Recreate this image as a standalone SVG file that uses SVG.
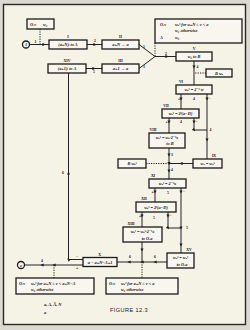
<svg xmlns="http://www.w3.org/2000/svg" width="250" height="330" viewBox="0 0 250 330">
<style>
.bg{fill:#dcd9d1}
.paper{fill:#f5f2e6;stroke:#2a2a2a;stroke-width:1.4}
.box{fill:#f8f6ee;stroke:#1a1a1a;stroke-width:1.3}
.ln{fill:none;stroke:#222;stroke-width:1}
.dot{fill:none;stroke:#222;stroke-width:1;stroke-dasharray:1.2,1.2}
.t{font-family:"Liberation Serif","DejaVu Serif",serif;font-style:italic;font-weight:bold;font-size:4.3px;fill:#111;text-anchor:middle}
.tl{font-family:"Liberation Serif","DejaVu Serif",serif;font-style:italic;font-weight:bold;font-size:4.3px;fill:#111}
.lab{font-family:"Liberation Serif","DejaVu Serif",serif;font-weight:bold;font-size:3.8px;fill:#111;text-anchor:middle}
.cap{font-family:"Liberation Sans","DejaVu Sans",sans-serif;font-size:5.6px;fill:#222;letter-spacing:0.4px}
</style>
<defs>
<marker id="a" viewBox="0 0 6 6" refX="3" refY="3" markerWidth="3.2" markerHeight="3.2" orient="auto" markerUnits="userSpaceOnUse">
<path d="M0,0 L6,3 L0,6 z" fill="#1e1e1e"/>
</marker>
</defs>
<rect class="bg" x="0" y="0" width="250" height="330"/>
<rect class="paper" x="3.5" y="4.5" width="242" height="320"/>

<g id="connectors">
<polyline class="ln" points="29.5,44.5 44,44.5 49,44.5" marker-mid="url(#a)"/>
<line class="dot" x1="40" y1="29" x2="40" y2="44.5"/>
<polyline class="ln" points="87,44.5 95,44.5 102,44.5" marker-mid="url(#a)"/>
<polyline class="ln" points="86,68.5 94,68.5 102,68.5" marker-mid="url(#a)"/>
<line class="ln" x1="139" y1="44.5" x2="155" y2="56.5"/>
<line class="ln" x1="139" y1="68.5" x2="155" y2="56.5"/>
<line class="dot" x1="155" y1="43" x2="155" y2="56.5"/>
<polyline class="ln" points="155,56.5 167,56.5 176,56.5" marker-mid="url(#a)"/>
<polyline class="ln" points="194,61 194,67 194,85" marker-mid="url(#a)"/>
<line class="dot" x1="206" y1="73" x2="194" y2="73"/>
<polyline class="ln" points="181,94 181,99 181,109" marker-mid="url(#a)"/>
<polyline class="ln" points="207,94 207,99 207,140 207,159" marker-mid="url(#a)"/>
<polyline class="ln" points="169,118 169,122 169,133" marker-mid="url(#a)"/>
<polyline class="ln" points="194,118 194,122 194,130 207,130" marker-mid="url(#a)"/>
<polyline class="ln" points="169,148 169,155 169,163.5 169,171 169,179" marker-mid="url(#a)"/>
<polyline class="ln" points="193,163.5 181,163.5 169,163.5" marker-mid="url(#a)"/>
<line class="dot" x1="169" y1="163.5" x2="146" y2="163.5"/>
<polyline class="ln" points="155,188 155,192 155,202" marker-mid="url(#a)"/>
<polyline class="ln" points="181,188 181,192 181,228 181,245 181,253" marker-mid="url(#a)"/>
<polyline class="ln" points="142,212 142,216 142,227" marker-mid="url(#a)"/>
<polyline class="ln" points="168,212 168,216 168,228 181,228" marker-mid="url(#a)"/>
<polyline class="ln" points="142,242 142,250 142,262" marker-mid="url(#a)"/>
<polyline class="ln" points="167,262 155,262 142,262 129,262 117,262" marker-mid="url(#a)"/>
<line class="dot" x1="142" y1="262" x2="142" y2="278"/>
<polyline class="ln" points="83,259.5 68.5,259.5 68.5,173 68.5,73" marker-mid="url(#a)"/>
<polyline class="ln" points="83,265 54,265 42,265 24.5,265" marker-mid="url(#a)"/>
<line class="dot" x1="54" y1="265" x2="54" y2="278"/>
</g>

<g id="labels">
<text class="lab" x="35.5" y="42.5">1</text>
<text class="lab" x="95" y="42">2</text>
<text class="lab" x="94" y="72.5">5</text>
<text class="lab" x="144" y="48">1</text>
<text class="lab" x="144" y="68">3</text>
<text class="lab" x="166" y="54.5">2</text>
<text class="lab" x="197.5" y="68">4</text>
<text class="lab" x="179" y="100">+</text>
<text class="lab" x="194" y="100">4</text>
<text class="lab" x="209.5" y="100">−</text>
<text class="lab" x="166.5" y="123">+</text>
<text class="lab" x="181" y="123">4</text>
<text class="lab" x="196.5" y="123">−</text>
<text class="lab" x="210.5" y="131">4</text>
<text class="lab" x="172" y="156">3</text>
<text class="lab" x="172" y="171">4</text>
<text class="lab" x="152.5" y="193">+</text>
<text class="lab" x="168" y="194">5</text>
<text class="lab" x="184" y="193">−</text>
<text class="lab" x="140" y="216.5">+</text>
<text class="lab" x="154" y="219">5</text>
<text class="lab" x="170.5" y="216.5">−</text>
<text class="lab" x="187" y="229">5</text>
<text class="lab" x="130" y="258">6</text>
<text class="lab" x="155" y="258">6</text>
<text class="lab" x="63" y="173.5">6</text>
<text class="lab" x="77" y="257.5">−</text>
<text class="lab" x="77" y="268.5">+</text>
<text class="lab" x="42" y="262">4</text>
</g>

<g id="n-ov0"><rect class="box" x="27" y="19" width="27" height="10"/><text class="tl" x="30" y="25.5">O.v</text><text class="tl" x="43" y="25.5">w₀</text></g>
<g id="n-start"><circle class="box" cx="26" cy="44.5" r="3.5"/><text class="t" x="26" y="46">1</text></g>
<g id="n-I"><text class="lab" x="68" y="38">I</text><rect class="box" x="49" y="40" width="38" height="9"/><text class="t" x="68" y="46">(a+N)ᵢ  to A</text></g>
<g id="n-II"><text class="lab" x="120.5" y="38">II</text><rect class="box" x="102" y="40" width="37" height="9"/><text class="t" x="120.5" y="46">a+N → a</text></g>
<g id="n-XIV"><text class="lab" x="67" y="62">XIV</text><rect class="box" x="48" y="64" width="38" height="9"/><text class="t" x="67" y="70">(a+1)ᵢ  to A</text></g>
<g id="n-III"><text class="lab" x="120.5" y="62">III</text><rect class="box" x="102" y="64" width="37" height="9"/><text class="t" x="120.5" y="70">a+1 → a</text></g>
<g id="n-store1"><rect class="box" x="155" y="19" width="87" height="24"/>
<text class="tl" x="160" y="26">O.v</text><text class="tl" x="175" y="26">wₐˢ  for a+N ≤ v &lt; a</text>
<text class="tl" x="175" y="32">w₀  otherwise</text>
<text class="tl" x="160" y="39">A</text><text class="tl" x="175" y="39">w₀</text></g>
<g id="n-V"><text class="lab" x="194" y="50">V</text><rect class="box" x="176" y="52" width="36" height="9"/><text class="t" x="194" y="58">w₀   to  B</text></g>
<g id="n-Bwa"><rect class="box" x="206" y="69" width="26" height="8"/><text class="t" x="219" y="74.5">B    wₐ</text></g>
<g id="n-VI"><text class="lab" x="181" y="83">VI</text><rect class="box" x="176" y="85" width="36" height="9"/><text class="t" x="194" y="91">wₐˢ = 2⁻ˢ w</text></g>
<g id="n-VII"><text class="lab" x="166" y="107">VII</text><rect class="box" x="162" y="109" width="37" height="9"/><text class="t" x="180.5" y="115">wₐˢ = 2ˢ(a−D)</text></g>
<g id="n-VIII"><text class="lab" x="153" y="131">VIII</text><rect class="box" x="149" y="133" width="36" height="15"/><text class="t" x="167" y="139">wₐˢ = wₐ·2⁻ˢx</text><text class="t" x="170" y="145">to B</text></g>
<g id="n-Bwas"><rect class="box" x="118" y="159" width="28" height="9"/><text class="t" x="132" y="165">B    wₐˢ</text></g>
<g id="n-IX"><text class="lab" x="214" y="157">IX</text><rect class="box" x="193" y="159" width="29" height="9"/><text class="t" x="207.5" y="165">wₐ = wₐˢ</text></g>
<g id="n-XI"><text class="lab" x="153" y="177">XI</text><rect class="box" x="149" y="179" width="37" height="9"/><text class="t" x="167.5" y="185">wₐˢ = 2⁻ˢx</text></g>
<g id="n-XII"><text class="lab" x="144" y="200">XII</text><rect class="box" x="136" y="202" width="40" height="10"/><text class="t" x="156" y="208.5">wₐˢ = 2ˢ(a−D)</text></g>
<g id="n-XIII"><text class="lab" x="131" y="225">XIII</text><rect class="box" x="123" y="227" width="39" height="15"/><text class="t" x="142.5" y="233">wₐˢ = wₐˢ·2⁻ˢx</text><text class="t" x="147" y="239.5">to O.a</text></g>
<g id="n-XV"><text class="lab" x="189" y="251">XV</text><rect class="box" x="167" y="253" width="27" height="15"/><text class="t" x="180.5" y="259">wₐˢ = wₐˢ</text><text class="t" x="182" y="265.5">to O.a</text></g>
<g id="n-X"><text class="lab" x="99.5" y="255.5">X</text><rect class="box" x="83" y="257.5" width="34" height="9"/><text class="t" x="100" y="263.5">a − a+N−A+1</text></g>
<g id="n-end"><circle class="box" cx="21" cy="265" r="3.5"/><text class="t" x="21" y="266.5">e</text></g>
<g id="n-store2"><rect class="box" x="16" y="278" width="78" height="16"/>
<text class="tl" x="19" y="284.5">O.v</text><text class="tl" x="31" y="284.5">wₐˢ for a+N ≤ v &lt; a+N−A</text>
<text class="tl" x="31" y="291">w₀  otherwise</text></g>
<g id="n-store3"><rect class="box" x="106" y="278" width="72" height="16"/>
<text class="tl" x="109" y="284.5">O.v</text><text class="tl" x="121" y="284.5">wₐˢ  for a+N ≤ v &lt; a</text>
<text class="tl" x="121" y="291">w₀  otherwise</text></g>
<text class="tl" x="44" y="306">a, A, Ā, N</text>
<text class="tl" x="44" y="314">a</text>
<text class="cap" x="110" y="312">FIGURE 12.3</text>
</svg>
